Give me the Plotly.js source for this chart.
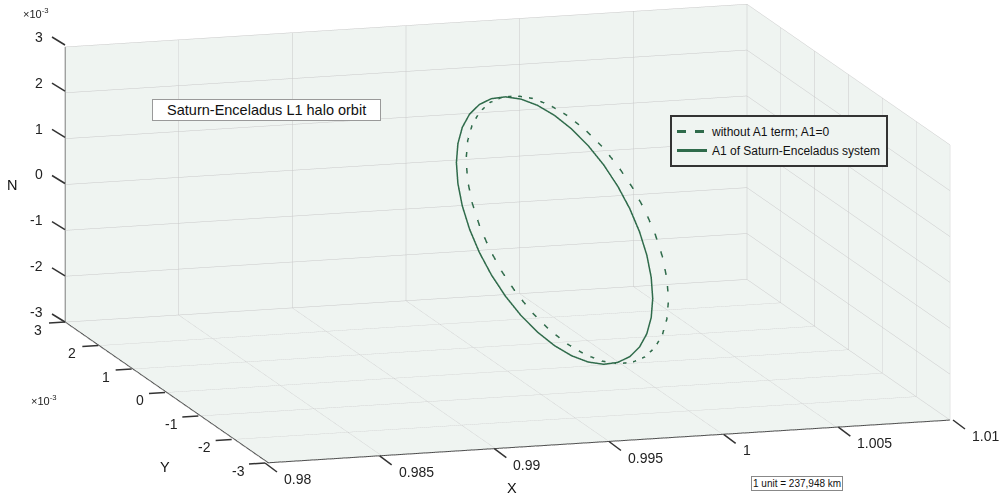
<!DOCTYPE html>
<html>
<head>
<meta charset="utf-8">
<script src="https://cdn.plot.ly/plotly-3.0.1.min.js"></script>
<style>
  html, body { margin: 0; padding: 0; background: #ffffff; }
  #plot { width: 1000px; height: 495px; }
</style>
</head>
<body>
<div id="plot"></div>
<script>
// halo orbits, one point every 10 deg; y and z are in units of 1e-3
var xSolid = [0.99707, 0.99707, 0.99707, 0.99707, 0.99707, 0.99707, 0.99707, 0.99707, 0.99707, 0.99707,
  0.99707, 0.99707, 0.99707, 0.99707, 0.99707, 0.99707, 0.99707, 0.99707, 0.99707,
  0.99707, 0.99707, 0.99707, 0.99707, 0.99707, 0.99707, 0.99707, 0.99707, 0.99707,
  0.99707, 0.99707, 0.99707, 0.99707, 0.99707, 0.99707, 0.99707, 0.99707, 0.99707];
var ySolid = [0, 0.504, 0.992, 1.45, 1.864, 2.222, 2.511, 2.725, 2.856, 2.9,
  2.856, 2.725, 2.511, 2.222, 1.864, 1.45, 0.992, 0.504, 0,
  -0.504, -0.992, -1.45, -1.864, -2.222, -2.511, -2.725, -2.856, -2.9,
  -2.856, -2.725, -2.511, -2.222, -1.864, -1.45, -0.992, -0.504, 0];
var zSolid = [2.51, 2.472, 2.359, 2.174, 1.923, 1.613, 1.255, 0.859, 0.436, 0,
  -0.436, -0.859, -1.255, -1.613, -1.923, -2.174, -2.359, -2.472, -2.51,
  -2.472, -2.359, -2.174, -1.923, -1.613, -1.255, -0.859, -0.436, 0,
  0.436, 0.859, 1.255, 1.613, 1.923, 2.174, 2.359, 2.472, 2.51];

var xDashed = [0.99763, 0.99763, 0.99763, 0.99763, 0.99763, 0.99763, 0.99763, 0.99763, 0.99763, 0.99763,
  0.99763, 0.99763, 0.99763, 0.99763, 0.99763, 0.99763, 0.99763, 0.99763, 0.99763,
  0.99763, 0.99763, 0.99763, 0.99763, 0.99763, 0.99763, 0.99763, 0.99763, 0.99763,
  0.99763, 0.99763, 0.99763, 0.99763, 0.99763, 0.99763, 0.99763, 0.99763, 0.99763];
var yDashed = [0, 0.519, 1.023, 1.495, 1.922, 2.291, 2.589, 2.81, 2.945, 2.99,
  2.945, 2.81, 2.589, 2.291, 1.922, 1.495, 1.023, 0.519, 0,
  -0.519, -1.023, -1.495, -1.922, -2.291, -2.589, -2.81, -2.945, -2.99,
  -2.945, -2.81, -2.589, -2.291, -1.922, -1.495, -1.023, -0.519, 0];
var zDashed = [2.49, 2.452, 2.34, 2.156, 1.907, 1.601, 1.245, 0.852, 0.432, 0,
  -0.432, -0.852, -1.245, -1.601, -1.907, -2.156, -2.34, -2.452, -2.49,
  -2.452, -2.34, -2.156, -1.907, -1.601, -1.245, -0.852, -0.432, 0,
  0.432, 0.852, 1.245, 1.601, 1.907, 2.156, 2.34, 2.452, 2.49];

var xRange = [0.98, 1.01];
var yzRange = [-3, 3];
var xTicks = [0.98, 0.985, 0.99, 0.995, 1, 1.005, 1.01];
var xTickText = ["0.98", "0.985", "0.99", "0.995", "1", "1.005", "1.01"];
var yzTicks = [-3, -2, -1, 0, 1, 2, 3];
var yzTickText = ["-3", "-2", "-1", "0", "1", "2", "3"];

var seriesNames = ["without A1 term; A1=0", "A1 of Saturn-Enceladus system"];
var orbitColor = "#2f6b4b";
var wallColor = "#eff4f1";
var fontFamily = "Liberation Sans, Arial, sans-serif";
var W = 1000, H = 495;

function axisStyle(vals, range) {
  return {
    range: range,
    tickvals: vals,
    showticklabels: false,
    title: { text: "" },
    showbackground: true,
    backgroundcolor: wallColor,
    gridcolor: "#c8c8c8",
    gridwidth: 1,
    showline: false,
    ticks: "",
    zeroline: false,
    showspikes: false,
  };
}

// screen edges of the drawn box (front-left floor corner and the three box edges)
var boxOrigin = [265, 463];
var boxU = [688, -43];
var boxV = [-200, -141];
var boxW = [0, -277];

function px(p) { return p[0] / W; }
function py(p) { return 1 - p[1] / H; }

var tickShapes = [];
var xLabels = [];
function tickLine(p, d) {
  tickShapes.push({
    type: "line", xref: "paper", yref: "paper",
    x0: px(p), y0: py(p), x1: px([p[0] + d[0], p[1] + d[1]]), y1: py([p[0] + d[0], p[1] + d[1]]),
    line: { color: "#333", width: 1.5 },
  });
}
xTicks.forEach(function (v, i) {
  var f = (v - xRange[0]) / (xRange[1] - xRange[0]);
  var p = [boxOrigin[0] + f * boxU[0], boxOrigin[1] + f * boxU[1]];
  tickLine(p, [12, 9]);
  xLabels.push({
    xref: "paper", yref: "paper", x: px([p[0] + 17, 0]), y: py([0, p[1] + 16]),
    xanchor: "left", yanchor: "middle", text: xTickText[i], showarrow: false,
    font: { family: fontFamily, size: 14, color: "#222" },
  });
});
yzTicks.forEach(function (v) {
  var g = (v - yzRange[0]) / (yzRange[1] - yzRange[0]);
  var p = [boxOrigin[0] + g * boxV[0], boxOrigin[1] + g * boxV[1]];
  tickLine(p, [-16, 1]);
  var q = [boxOrigin[0] + boxV[0] + g * boxW[0], boxOrigin[1] + boxV[1] + g * boxW[1]];
  tickLine(q, [-13, -8]);
});

// horizontal y and z tick labels, placed in the scene just inside the box edges
var xIn = [0.98001, 1.00999];
var yIn = [-2.9999, 2.9999];
var tickLabels = [];
yzTicks.forEach(function (v, i) {
  var iv = Math.min(Math.max(v, yIn[0]), yIn[1]);
  tickLabels.push({ x: xIn[0], y: iv, z: yIn[0], text: yzTickText[i], xanchor: "right", yanchor: "middle", xshift: -21, yshift: -8 });
  tickLabels.push({ x: xIn[0], y: yIn[1], z: iv, text: yzTickText[i], xanchor: "right", yanchor: "middle", xshift: -20, yshift: 10 });
});
tickLabels.forEach(function (a) {
  a.showarrow = false;
  a.font = { family: fontFamily, size: 14, color: "#222" };
});

// dark axis lines along the front x edge, left y edge and back z edge
var trace_frame = {
  type: "scatter3d",
  mode: "lines",
  x: [xIn[1], xIn[0], xIn[0], xIn[0]],
  y: [yIn[0], yIn[0], yIn[1], yIn[1]],
  z: [yIn[0], yIn[0], yIn[0], yIn[1]],
  line: { color: "#333333", width: 2 },
  showlegend: false,
  hoverinfo: "none",
};

var trace_dashed = {
  type: "scatter3d",
  mode: "lines",
  name: seriesNames[0],
  x: xDashed,
  y: yDashed,
  z: zDashed,
  line: { color: orbitColor, width: 3, dash: "dash" },
  hoverinfo: "none",
};

var trace_solid = {
  type: "scatter3d",
  mode: "lines",
  name: seriesNames[1],
  x: xSolid,
  y: ySolid,
  z: zSolid,
  line: { color: orbitColor, width: 3 },
  hoverinfo: "none",
};

var textFont = { family: fontFamily, size: 14.5, color: "#111" };

var layout = {
  width: W,
  height: H,
  margin: { l: 0, r: 0, t: 0, b: 0 },
  paper_bgcolor: "#ffffff",
  showlegend: true,
  legend: {
    x: 0.67,
    y: 1 - 115 / 495,
    xanchor: "left",
    yanchor: "top",
    bgcolor: wallColor,
    bordercolor: "#333",
    borderwidth: 2,
    itemwidth: 30,
    font: { family: fontFamily, size: 12, color: "#111" },
    tracegroupgap: 0,
  },
  scene: {
    domain: { x: [0.015, 1], y: [0.057, 1] },
    xaxis: axisStyle(xTicks, xRange),
    yaxis: axisStyle(yzTicks, yzRange),
    zaxis: axisStyle(yzTicks, yzRange),
    aspectmode: "manual",
    aspectratio: { x: 3.05, y: 3.02, z: 1.205 },
    camera: {
      projection: { type: "orthographic" },
      up: { x: 0, y: 0, z: 1 },
      center: { x: 0, y: 0, z: 0 },
      eye: { x: -1.69, y: -5.62, z: 1.25 },
    },
    annotations: tickLabels,
  },
  shapes: tickShapes,
  annotations: xLabels.concat([
    {
      xref: "paper", yref: "paper", x: 0.152, y: 1 - 110 / 495,
      xanchor: "left", yanchor: "middle",
      text: "&nbsp;&nbsp;&nbsp;Saturn-Enceladus L1 halo orbit&nbsp;&nbsp;&nbsp;",
      showarrow: false, font: textFont,
      bgcolor: "#ffffff", bordercolor: "#999", borderwidth: 1, borderpad: 2,
    },
    {
      xref: "paper", yref: "paper", x: 0.751, y: 1 - 483 / 495,
      xanchor: "left", yanchor: "middle",
      text: "1 unit = 237,948 km",
      showarrow: false,
      font: { family: fontFamily, size: 10, color: "#111" },
      bgcolor: "#ffffff", bordercolor: "#888", borderwidth: 1, borderpad: 1,
    },
    {
      xref: "paper", yref: "paper", x: 0.021, y: 1 - 13 / 495,
      xanchor: "left", yanchor: "middle",
      text: "×10<sup>-3</sup>", showarrow: false,
      font: { family: fontFamily, size: 11, color: "#222" },
    },
    {
      xref: "paper", yref: "paper", x: 0.029, y: 1 - 400 / 495,
      xanchor: "left", yanchor: "middle",
      text: "×10<sup>-3</sup>", showarrow: false,
      font: { family: fontFamily, size: 11, color: "#222" },
    },
    {
      xref: "paper", yref: "paper", x: 0.512, y: 1 - 488 / 495,
      xanchor: "center", yanchor: "middle",
      text: "X", showarrow: false, font: textFont,
    },
    {
      xref: "paper", yref: "paper", x: 0.165, y: 1 - 467 / 495,
      xanchor: "center", yanchor: "middle",
      text: "Y", showarrow: false, font: textFont,
    },
    {
      xref: "paper", yref: "paper", x: 0.012, y: 1 - 185 / 495,
      xanchor: "center", yanchor: "middle",
      text: "N", showarrow: false, font: textFont,
    },
  ]),
};

Plotly.newPlot("plot", [trace_frame, trace_dashed, trace_solid], layout, { displayModeBar: false });
</script>
</body>
</html>
